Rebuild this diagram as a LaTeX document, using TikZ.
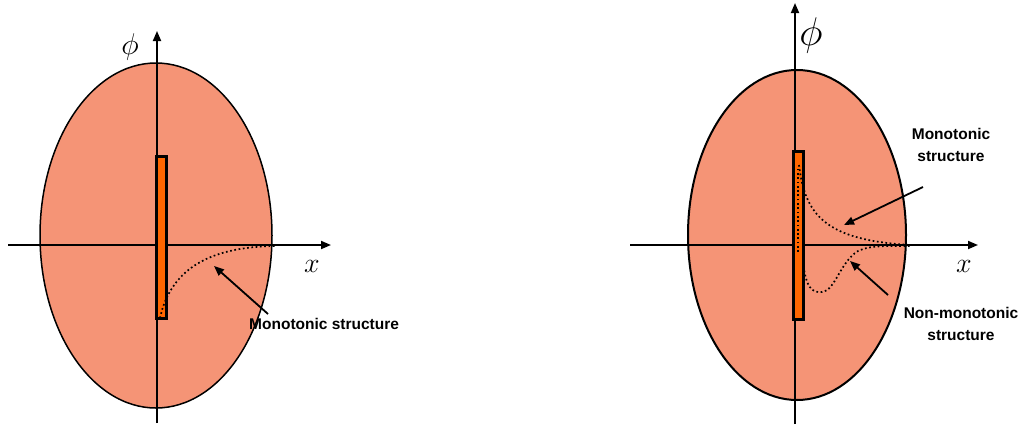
\RequirePackage{fix-cm}
\documentclass[tikz,border=0pt]{standalone}
\usepackage{fontspec}
\newfontfamily\arialfont{Liberation Sans}
\usetikzlibrary{arrows.meta}
\definecolor{salmonfill}{RGB}{245,148,118}
\definecolor{platefill}{RGB}{255,102,0}
\tikzset{
  axis/.style={line width=1.8pt,-{Triangle[length=10pt,width=8pt]}},
  plate/.style={draw=black,line width=3pt,fill=platefill},
  profile/.style={line width=1.7pt,dash pattern=on 1.7pt off 2.6pt},
  pointer/.style={line width=1.8pt,-{Triangle[length=10pt,width=8pt]}},
  lbl/.style={font=\arialfont\bfseries\fontsize{15.5}{21.5}\selectfont,align=center,inner sep=0pt},
}
\begin{document}
\begin{tikzpicture}[x=1pt,y=-1pt]
\useasboundingbox (0,0) rectangle (1028,424);
% ---------- left panel ----------
\fill[salmonfill,draw=black,line width=1.5pt] (156,235.5) ellipse [x radius=116pt, y radius=172.5pt];
\coordinate (LyB) at (157,423);
\coordinate (LyT) at (157,31);
\coordinate (LxL) at (8,245);
\coordinate (LxR) at (331,245);
\draw[axis] (LyB) -- (LyT);
\draw[axis] (LxL) -- (LxR);
\draw[plate] (156.5,156) rectangle (166.5,318);
\draw[profile] (160,318) -- (162,310) .. controls (176,265) and (215,247) .. (275,246);
\node[lbl,anchor=west] (Lmono) at (249,324) {Monotonic structure};
\coordinate (LaT) at (268,314);
\coordinate (LaH) at (214,266);
\draw[pointer] (LaT) -- (LaH);
\node (Lx) at (312,266) {\fontsize{28}{28}\selectfont$x$};
\node (Lphi) at (130,47) {\fontsize{30}{30}\selectfont$\phi$};
% ---------- right panel ----------
\fill[salmonfill,draw=black,line width=2pt] (797,235) ellipse [x radius=109pt, y radius=165pt];
\coordinate (RyB) at (795,424);
\coordinate (RyT) at (795,3);
\coordinate (RxL) at (630,245);
\coordinate (RxR) at (978,245);
\draw[axis] (RyB) -- (RyT);
\draw[axis] (RxL) -- (RxR);
\draw[plate] (793.5,151) rectangle (803,319);
\draw[profile] (798,252) -- (798,167);
\draw[profile] (799,165) .. controls (805,215) and (825,240) .. (910,245);
\draw[profile] (803,262) .. controls (806,288) and (812,293) .. (822,292)
  .. controls (835,291) and (840,262) .. (858,251)
  .. controls (870,245) and (890,246) .. (910,246);
\node[lbl] (Rmono) at (951,145) {Monotonic\\structure};
\node[lbl] (Rnon) at (961,324) {Non-monotonic\\structure};
\coordinate (RaT) at (923,187);
\coordinate (RaH) at (844,225);
\draw[pointer] (RaT) -- (RaH);
\coordinate (RbT) at (888,295);
\coordinate (RbH) at (850,261);
\draw[pointer] (RbT) -- (RbH);
\node (Rx) at (964,266) {\fontsize{28}{28}\selectfont$x$};
\node (Rphi) at (811,35) {\fontsize{40}{40}\selectfont$\phi$};
\end{tikzpicture}
\end{document}
